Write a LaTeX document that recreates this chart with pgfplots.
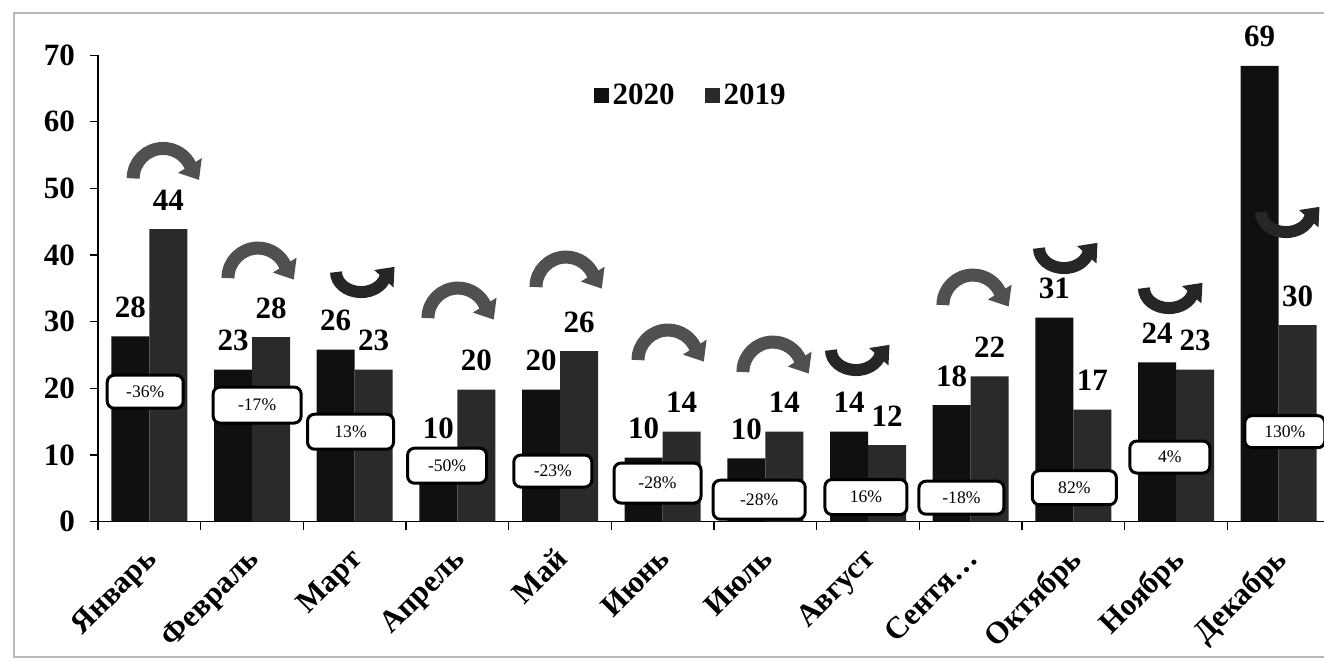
\documentclass[border=0pt]{standalone}
\usepackage{fontspec}
\setmainfont{Liberation Serif}
\usepackage{pgfplots}
\pgfplotsset{compat=1.18}
\definecolor{cA}{HTML}{101010}
\definecolor{cB}{HTML}{2A2A2A}
\definecolor{arr}{HTML}{505050}
\definecolor{arrdk}{HTML}{262626}
\newcommand{\bigf}{\bfseries\fontsize{15.5}{17}\selectfont}
\tikzset{
  pbox/.style={draw=black, line width=1.5pt, fill=white, rounded corners=3.5pt,
    inner sep=0pt, font=\fontsize{8.8}{10}\selectfont},
}
% curved arrow over the pair (decrease) and under it (increase)
\newcommand{\overarr}[2]{%
  \draw[arr, line width=6.5pt] (axis cs:#1,#2) ++(-15pt,0pt)
    arc[start angle=180, end angle=22, radius=15pt] coordinate (tmp);
  \fill[arr, shift={(tmp)}, rotate=-58] (-1pt,-7pt) -- (7.5pt,0pt) -- (-1pt,7pt) -- cycle;}
\newcommand{\underarr}[2]{%
  \draw[arrdk, line width=6pt] (axis cs:#1,#2) ++(-12.5pt,0pt)
    arc[start angle=180, end angle=345, x radius=12.5pt, y radius=10pt] coordinate (tmp);
  \fill[arrdk, shift={(tmp)}, rotate=48] (-1pt,-6.5pt) -- (7pt,0pt) -- (-1pt,6.5pt) -- cycle;}
\begin{document}
\begin{tikzpicture}
\path[use as bounding box] (0,0) rectangle (662pt,330pt);
\draw[gray!55, line width=0.8pt] (7pt,1.5pt) rectangle (675pt,323.5pt);
\begin{axis}[
  at={(49pt,69.15pt)}, anchor=south west,
  scale only axis, width=616pt, height=233.3pt,
  ybar=0pt, bar width=19pt,
  xmin=-0.5, xmax=11.5, ymin=0, ymax=70,
  axis x line=bottom, axis y line=left,
  axis line style={-, black, line width=0.6pt},
  clip=false,
  /pgf/number format/assume math mode=true,
  tick align=outside, major tick length=4pt, minor tick length=4pt,
  ytick={0,10,...,70},
  xtick={0,...,11},
  major x tick style={draw=none},
  minor xtick={-0.5,0.5,...,11.5},
  minor x tick style={black, line width=0.6pt},
  y tick style={black, line width=0.6pt},
  xticklabels={Январь,Февраль,Март,Апрель,Май,Июнь,Июль,Август,Сентя…,Октябрь,Ноябрь,Декабрь},
  xticklabel style={xshift=-3pt, yshift=-6.5pt, rotate=45, anchor=north east, inner sep=1pt, font=\bigf},
  yticklabel style={font=\bigf, xshift=-4pt},
  point meta=explicit symbolic,
  nodes near coords,
  every node near coord/.append style={anchor=base, yshift=9.5pt, font=\bigf},
  legend style={draw=none, fill=none, inner sep=0pt,
    at={(axis description cs:0.402,0.912)}, anchor=west,
    font=\bigf, /tikz/every even column/.append style={column sep=13pt}},
  legend columns=2,
]
\addplot[fill=cA, draw=none,
  legend image code/.code={\fill[cA] (0pt,-3.5pt) rectangle (7.5pt,4pt);}]
  coordinates {(0,27.8)[28] (1,22.8)[23] (2,25.8)[26] (3,9.7)[10] (4,19.8)[20] (5,9.6)[10]
               (6,9.5)[10] (7,13.5)[14] (8,17.5)[18] (9,30.6)[31] (10,23.9)[24] (11,68.4)[69]};
\addplot[fill=cB, draw=none,
  legend image code/.code={\fill[cB] (0pt,-3.5pt) rectangle (7.5pt,4pt);}]
  coordinates {(0,43.9)[44] (1,27.7)[28] (2,22.8)[23] (3,19.8)[20] (4,25.6)[26] (5,13.5)[14]
               (6,13.5)[14] (7,11.5)[12] (8,21.8)[22] (9,16.8)[17] (10,22.8)[23] (11,29.5)[30]};
\legend{2020,2019}

% change boxes
\node[pbox, minimum width=38pt, minimum height=16.5pt] at (axis cs:-0.04,19.5) {-36\%};
\node[pbox, minimum width=44pt, minimum height=18pt] at (axis cs:1.05,17.5) {-17\%};
\node[pbox, minimum width=43pt, minimum height=17.5pt] at (axis cs:1.96,13.5) {13\%};
\node[pbox, minimum width=39.5pt, minimum height=17.5pt] at (axis cs:2.90,8.4) {-50\%};
\node[pbox, minimum width=39pt, minimum height=16pt] at (axis cs:3.93,7.6) {-23\%};
\node[pbox, minimum width=43.5pt, minimum height=20pt] at (axis cs:4.95,5.8) {-28\%};
\node[pbox, minimum width=46pt, minimum height=19.5pt] at (axis cs:5.94,3.3) {-28\%};
\node[pbox, minimum width=41pt, minimum height=17.5pt] at (axis cs:6.98,3.7) {16\%};
\node[pbox, minimum width=42.5pt, minimum height=16.5pt] at (axis cs:7.91,3.6) {-18\%};
\node[pbox, minimum width=42pt, minimum height=17pt] at (axis cs:9.01,5.1) {82\%};
\node[pbox, minimum width=40pt, minimum height=16pt] at (axis cs:9.94,9.7) {4\%};
\node[pbox, minimum width=40pt, minimum height=16pt] at (axis cs:11.06,13.5) {130\%};

% curved arrows
\overarr{0.135}{51.5}
\overarr{1.058}{36.55}
\overarr{3.006}{30.55}
\overarr{4.058}{35.2}
\overarr{5.052}{24.25}
\overarr{6.074}{22.45}
\overarr{8.022}{32.5}
\underarr{2.062}{37.45}
\underarr{6.883}{25.75}
\underarr{8.909}{41.05}
\underarr{9.931}{35.05}
\underarr{11.071}{46.45}
\end{axis}
\end{tikzpicture}
\end{document}
